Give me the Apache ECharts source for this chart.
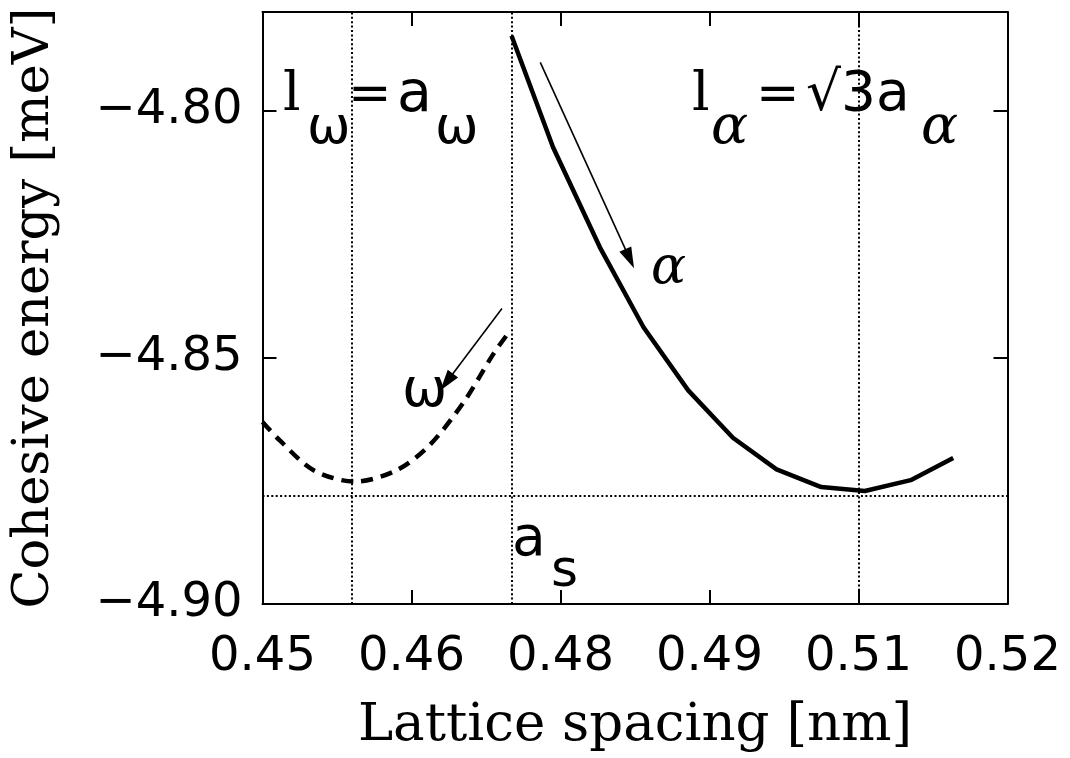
<!DOCTYPE html>
<html><head><meta charset="utf-8">
<script src="https://cdn.jsdelivr.net/npm/echarts@6/dist/echarts.min.js"></script>
<style>html,body{margin:0;padding:0;background:#fff}#c{width:1070px;height:758px}</style>
</head><body><div id="c"></div>
<script>
// ---- data ----
const xTickValues = [0.45, 0.464, 0.478, 0.492, 0.506, 0.52];
const yTickValues = [-4.90, -4.85, -4.80];
const alphaX = [0.4734, 0.4773, 0.4817, 0.4858, 0.4900, 0.4942, 0.4983, 0.5025, 0.5066, 0.5109, 0.5149];
const alphaY = [-4.7848, -4.8074, -4.8277, -4.8439, -4.8567, -4.8663, -4.8727, -4.8763, -4.8771, -4.8749, -4.8704];
const omegaX = [0.4500, 0.4516, 0.4548, 0.4587, 0.4626, 0.4657, 0.4689, 0.4717, 0.4733];
const omegaY = [-4.8631, -4.8668, -4.8729, -4.8752, -4.8729, -4.8678, -4.8591, -4.8493, -4.8445];
const refX = [0.4584, 0.4734, 0.506];
const refY = [-4.8781];
const arrowAlpha = [[0.4761, -4.7902], [0.4845, -4.8300]];
const arrowOmega = [[0.4725, -4.8401], [0.4673, -4.8550]];

const X_MIN = 0.45, X_MAX = 0.52, Y_MIN = -4.90, Y_MAX = -4.78;
const zip = (xs, ys) => xs.map((x, i) => [x, ys[i]]);
const BLACK = '#000';
const TICK_FONT = 'DejaVu Sans';
const TITLE_FONT = 'DejaVu Serif';
const arrowHead = 'path://M6,0 L12,20 L0,20 Z';

const chart = echarts.init(document.getElementById('c'), null, {renderer: 'canvas'});

const axisCommon = {
  type: 'value',
  axisLine: {show: true, onZero: false, lineStyle: {color: BLACK, width: 2}},
  axisTick: {show: true, inside: true, length: 14, lineStyle: {color: BLACK, width: 2}},
  splitLine: {show: false}
};

function near(v, arr) { return arr.some(a => Math.abs(a - v) < 1e-6); }

const refLines = refX.map(v => [{coord: [v, Y_MIN]}, {coord: [v, Y_MAX]}])
  .concat(refY.map(v => [{coord: [X_MIN, v]}, {coord: [X_MAX, v]}]));

const option = {
  animation: false,
  backgroundColor: '#fff',
  grid: {left: 262.5, right: 62.5, top: 12, bottom: 154, containLabel: false},
  xAxis: [
    Object.assign({}, axisCommon, {
      position: 'bottom', min: X_MIN, max: X_MAX, interval: 0.014,
      axisLabel: {
        color: BLACK, fontFamily: TICK_FONT, fontSize: 48, margin: 30,
        formatter: v => near(v, xTickValues) ? v.toFixed(2) : ''
      },
      name: 'Lattice spacing [nm]', nameLocation: 'middle', nameGap: 96,
      nameTextStyle: {color: BLACK, fontFamily: TITLE_FONT, fontSize: 53}
    }),
    Object.assign({}, axisCommon, {
      position: 'top', min: X_MIN, max: X_MAX, interval: 0.014,
      axisLabel: {show: false}
    })
  ],
  yAxis: [
    Object.assign({}, axisCommon, {
      position: 'left', min: Y_MIN, max: Y_MAX, interval: 0.05,
      axisLabel: {
        color: BLACK, fontFamily: TICK_FONT, fontSize: 48, margin: 20,
        formatter: v => near(v, yTickValues) ? '\u2212' + Math.abs(v).toFixed(2) : ''
      },
      name: 'Cohesive energy [meV]', nameLocation: 'middle', nameGap: 202, nameRotate: 90,
      nameTextStyle: {color: BLACK, fontFamily: TITLE_FONT, fontSize: 51}
    }),
    Object.assign({}, axisCommon, {
      position: 'right', min: Y_MIN, max: Y_MAX, interval: 0.05,
      axisLabel: {show: false}
    })
  ],
  series: [
    {
      name: 'alpha', type: 'line', data: zip(alphaX, alphaY),
      showSymbol: false, symbol: 'none', z: 5,
      lineStyle: {color: BLACK, width: 4.5}
    },
    {
      name: 'omega', type: 'line', data: zip(omegaX, omegaY),
      showSymbol: false, symbol: 'none', smooth: 0.3, z: 5,
      lineStyle: {color: BLACK, width: 4.5, type: [12, 8]}
    },
    {
      name: 'refs', type: 'line', data: [], z: 2,
      markLine: {
        silent: true, symbol: ['none', 'none'], animation: false,
        label: {show: false},
        lineStyle: {color: BLACK, width: 2, type: [2, 2.4]},
        data: refLines
      }
    },
    {
      name: 'arrows', type: 'line', data: [], z: 6,
      markLine: {
        silent: true, symbol: ['none', arrowHead], symbolSize: [13, 21], animation: false,
        label: {show: false},
        lineStyle: {color: BLACK, width: 1.6, type: 'solid'},
        data: [
          [{coord: arrowAlpha[0]}, {coord: arrowAlpha[1]}],
          [{coord: arrowOmega[0]}, {coord: arrowOmega[1]}]
        ]
      }
    }
  ]
};
chart.setOption(option);

// ---- text annotations ----
function t(text, x, baseline, family, italic, size) {
  return {
    type: 'text', x: x, y: baseline - 0.30 * size, z: 10,
    style: {
      text: text, fill: BLACK,
      font: (italic ? 'italic ' : '') + size + 'px "' + family + '"',
      align: 'left', verticalAlign: 'middle',
      textAlign: 'left', textVerticalAlign: 'middle'
    }
  };
}
const S = 'DejaVu Sans', R = 'DejaVu Serif';
chart.setOption({
  graphic: [
    t('l', 283, 112, R, false, 55),
    t('\u03C9', 307, 145, S, false, 52),
    t('=', 348, 112, S, false, 52),
    t('a', 397, 113, S, false, 57),
    t('\u03C9', 435, 145, S, false, 52),

    t('l', 692, 112, R, false, 55),
    t('\u03B1', 711, 145, R, true, 55),
    t('=', 756, 112, S, false, 52),
    t('\u221A3a', 806, 112, S, false, 55),
    t('\u03B1', 921, 145, R, true, 55),

    t('\u03B1', 651, 285, R, true, 52),
    t('\u03C9', 402, 408, S, false, 54),
    t('a', 512, 557, S, false, 55),
    t('s', 551, 588, S, false, 52)
  ]
});
</script>
</body></html>
